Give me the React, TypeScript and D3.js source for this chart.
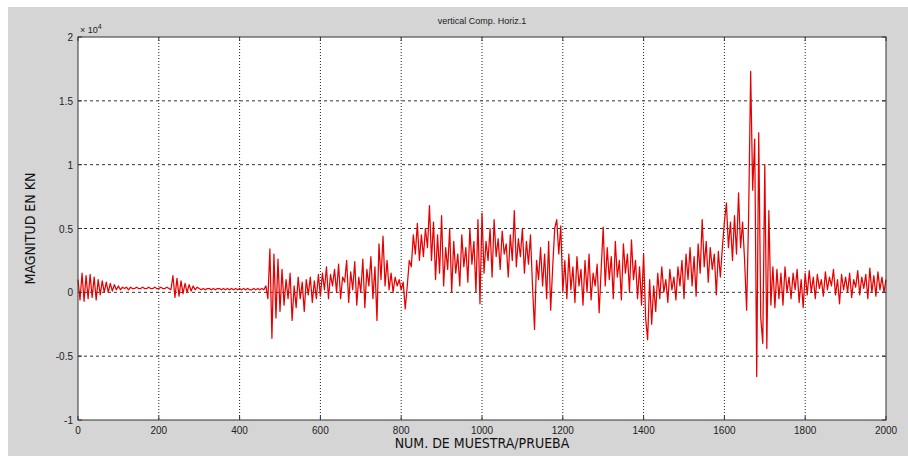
import React from "react";
import * as d3 from "d3";

const TITLE = "vertical Comp. Horiz.1";
const X_LABEL = "NUM. DE MUESTRA/PRUEBA";
const Y_LABEL = "MAGNITUD EN KN";
const EXPONENT_LABEL = "× 10";
const X_TICKS = [0, 200, 400, 600, 800, 1000, 1200, 1400, 1600, 1800, 2000];
const Y_TICKS = [-1, -0.5, 0, 0.5, 1, 1.5, 2];
const Y_TICK_LABELS = ["-1", "-0.5", "0", "0.5", "1", "1.5", "2"];
const SAMPLE_STEP = 5;

// magnitude (x 10^4) sampled every 5 samples, 0..2000
const MAG_0000 = [0.10, -0.06, 0.15, -0.07, 0.13, -0.05, 0.14, -0.04, 0.12, -0.06, 0.10, -0.02, 0.09, 0.00, 0.08, 0.00, 0.07, 0.01, 0.06, 0.02];
const MAG_0100 = [0.05, 0.02, 0.04, 0.03, 0.04, 0.02, 0.04, 0.03, 0.03, 0.04, 0.03, 0.03, 0.04, 0.03, 0.03, 0.04, 0.03, 0.03, 0.04, 0.03];
const MAG_0200 = [0.03, 0.04, 0.03, 0.03, 0.04, 0.03, 0.02, 0.13, -0.04, 0.11, -0.03, 0.09, -0.01, 0.07, 0.00, 0.06, 0.01, 0.05, 0.02, 0.04];
const MAG_0300 = [0.03, 0.02, 0.03, 0.02, 0.03, 0.03, 0.02, 0.03, 0.02, 0.03, 0.03, 0.02, 0.03, 0.02, 0.03, 0.02, 0.03, 0.02, 0.03, 0.02];
const MAG_0400 = [0.03, 0.02, 0.03, 0.02, 0.03, 0.02, 0.02, 0.03, 0.02, 0.03, 0.02, 0.03, 0.02, 0.05, -0.05, 0.34, -0.36, 0.30, -0.20, 0.26];
const MAG_0500 = [-0.15, 0.18, -0.10, 0.10, -0.05, 0.15, -0.22, 0.05, -0.12, 0.12, -0.05, 0.08, -0.15, 0.10, -0.02, 0.12, -0.08, 0.09, -0.05, 0.14];
const MAG_0600 = [-0.03, 0.15, 0.02, 0.20, -0.05, 0.14, 0.05, 0.18, 0.00, 0.22, -0.05, 0.12, 0.08, 0.25, -0.08, 0.16, 0.02, 0.24, -0.10, 0.12];
const MAG_0700 = [0.00, 0.26, -0.12, 0.18, 0.05, 0.28, -0.05, 0.20, -0.22, 0.38, 0.10, 0.44, 0.05, 0.25, 0.02, 0.15, 0.00, 0.12, 0.05, 0.10];
const MAG_0800 = [0.02, 0.08, -0.13, 0.05, 0.25, 0.20, 0.45, 0.30, 0.54, 0.25, 0.45, 0.28, 0.50, 0.35, 0.68, 0.25, 0.55, 0.10, 0.45, 0.15];
const MAG_0900 = [0.60, 0.05, 0.35, 0.18, 0.50, 0.00, 0.40, 0.15, 0.30, 0.05, 0.45, 0.20, 0.35, 0.08, 0.50, 0.22, 0.40, 0.00, 0.57, -0.09];
const MAG_1000 = [0.62, 0.15, 0.40, 0.25, 0.50, 0.12, 0.57, 0.28, 0.42, 0.18, 0.48, 0.30, 0.38, 0.12, 0.45, 0.25, 0.64, 0.20, 0.42, 0.28];
const MAG_1100 = [0.50, 0.15, 0.40, 0.22, 0.45, 0.05, -0.29, 0.25, 0.10, 0.35, 0.05, 0.30, -0.05, 0.40, -0.14, 0.20, 0.50, 0.57, 0.30, 0.52];
const MAG_1200 = [0.00, 0.25, -0.05, 0.30, 0.02, 0.20, -0.08, 0.28, 0.05, 0.18, -0.10, 0.25, 0.00, 0.30, -0.06, 0.15, 0.05, 0.22, -0.16, 0.18];
const MAG_1300 = [0.51, 0.05, 0.35, 0.10, 0.28, -0.05, 0.40, 0.12, 0.25, -0.06, 0.38, 0.15, 0.30, 0.00, 0.41, 0.10, 0.25, -0.05, 0.20, -0.10];
const MAG_1400 = [0.30, -0.20, -0.37, 0.10, -0.25, 0.05, -0.15, 0.15, -0.05, 0.20, 0.00, 0.10, -0.08, 0.18, 0.02, 0.12, -0.06, 0.20, 0.05, 0.25];
const MAG_1500 = [-0.05, 0.30, 0.10, 0.35, 0.05, 0.28, -0.03, 0.38, 0.15, 0.57, 0.20, 0.40, 0.08, 0.35, 0.18, 0.30, -0.02, 0.32, 0.12, 0.35];
const MAG_1600 = [0.55, 0.70, 0.35, 0.55, 0.25, 0.60, 0.30, 0.78, 0.35, 0.55, 0.25, -0.14, 0.60, 1.73, 0.80, 1.20, -0.66, 1.25, -0.20, -0.40];
const MAG_1700 = [1.00, -0.44, 0.64, -0.10, 0.20, -0.12, 0.18, -0.05, 0.15, -0.10, 0.20, 0.00, 0.12, -0.05, 0.15, 0.02, 0.18, -0.08, 0.10, -0.12];
const MAG_1800 = [0.15, -0.02, 0.17, 0.00, 0.12, -0.05, 0.14, 0.03, 0.10, -0.03, 0.16, 0.02, 0.12, 0.05, 0.18, -0.02, 0.10, -0.09, 0.14, 0.02];
const MAG_1900 = [0.12, 0.00, 0.15, -0.04, 0.10, 0.04, 0.17, -0.02, 0.12, 0.03, 0.14, -0.05, 0.19, 0.00, 0.13, -0.03, 0.16, 0.02, 0.12, 0.00];
const MAG_2000 = [0.10];

const MAGNITUDE = [
  ...MAG_0000, ...MAG_0100, ...MAG_0200, ...MAG_0300, ...MAG_0400,
  ...MAG_0500, ...MAG_0600, ...MAG_0700, ...MAG_0800, ...MAG_0900,
  ...MAG_1000, ...MAG_1100, ...MAG_1200, ...MAG_1300, ...MAG_1400,
  ...MAG_1500, ...MAG_1600, ...MAG_1700, ...MAG_1800, ...MAG_1900,
  ...MAG_2000,
];

export default function App() {
  const W = 908;
  const H = 456;
  const left = 78;
  const right = 886;
  const top = 37;
  const bottom = 420;

  const x = d3.scaleLinear().domain([0, 2000]).range([left, right]);
  const y = d3.scaleLinear().domain([-1, 2]).range([bottom, top]);

  const line = d3
    .line<number>()
    .x((_, i) => x(i * SAMPLE_STEP))
    .y((d) => y(d));

  const font = "Arial, 'Liberation Sans', sans-serif";
  const narrow = "'Liberation Sans Narrow', 'DejaVu Sans Condensed', 'Open Sans', Arial, sans-serif";

  return (
    <svg
      width={W}
      height={H}
      style={{ position: "absolute", left: 0, top: 0, display: "block" }}
    >
      <rect x={0} y={0} width={W} height={H} fill="#ffffff" />
      <rect x={8} y={7} width={W - 8} height={H - 7} fill="#d5d5d5" />
      <rect x={left} y={top} width={right - left} height={bottom - top} fill="#ffffff" />

      {/* grid */}
      {X_TICKS.slice(1, -1).map((t) => (
        <line
          key={"gx" + t}
          x1={x(t)}
          x2={x(t)}
          y1={top}
          y2={bottom}
          stroke="#222"
          strokeWidth={1}
          strokeDasharray="1,2"
        />
      ))}
      {Y_TICKS.slice(1, -1).map((t) => (
        <line
          key={"gy" + t}
          x1={left}
          x2={right}
          y1={y(t)}
          y2={y(t)}
          stroke="#333"
          strokeWidth={1}
          strokeDasharray="3,3"
        />
      ))}

      {/* signal */}
      <path d={line(MAGNITUDE) || ""} fill="none" stroke="#e80000" strokeWidth={1.25} strokeLinejoin="round" />

      {/* box */}
      <rect x={left} y={top} width={right - left} height={bottom - top} fill="none" stroke="#333" strokeWidth={1} />

      {/* ticks */}
      {X_TICKS.map((t) => (
        <g key={"xt" + t}>
          <line x1={x(t)} x2={x(t)} y1={bottom} y2={bottom - 4} stroke="#333" />
          <line x1={x(t)} x2={x(t)} y1={top} y2={top + 4} stroke="#333" />
          <text x={x(t)} y={bottom + 14} textAnchor="middle" fontSize={10} fontFamily={font} fill="#222">
            {t}
          </text>
        </g>
      ))}
      {Y_TICKS.map((t, i) => (
        <g key={"yt" + t}>
          <line x1={left} x2={left + 4} y1={y(t)} y2={y(t)} stroke="#333" />
          <line x1={right} x2={right - 4} y1={y(t)} y2={y(t)} stroke="#333" />
          <text x={left - 5} y={y(t) + 4} textAnchor="end" fontSize={10} fontFamily={font} fill="#222">
            {Y_TICK_LABELS[i]}
          </text>
        </g>
      ))}

      <text x={left + 2} y={top - 4} fontSize={9} fontFamily={font} fill="#222">
        {EXPONENT_LABEL}
        <tspan dy={-4} fontSize={7}>4</tspan>
      </text>

      <text x={(left + right) / 2} y={24} textAnchor="middle" fontSize={9} fontFamily={font} fill="#222">
        {TITLE}
      </text>

      <text x={(left + right) / 2} y={448} textAnchor="middle" fontSize={14} fontFamily={narrow} fill="#111">
        {X_LABEL}
      </text>

      <text
        transform={`translate(35, ${(top + bottom) / 2}) rotate(-90)`}
        textAnchor="middle"
        fontSize={14}
        fontFamily={narrow}
        fill="#111"
      >
        {Y_LABEL}
      </text>
    </svg>
  );
}
